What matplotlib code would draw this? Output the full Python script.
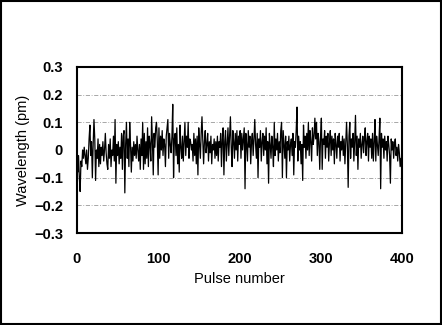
"""
Wavelength stability vs pulse number
"""
import matplotlib.pyplot as plt
import matplotlib as mtpl
import numpy as np

mtpl.rcParams['font.family'] = ['Liberation Sans', 'DejaVu Sans']
mtpl.rcParams['axes.unicode_minus'] = True

# wavelength deviation (pm), pulses 0..400
wavelength = [
    -0.05, -0.08, -0.02, -0.10, -0.15, -0.04, -0.06, 0.00, -0.03, 0.01, -0.02, -0.05, 0.00, -0.07, -0.03, 0.04, 0.09, -0.02, 0.03, -0.10,
    0.02, 0.11, 0.04, -0.11, 0.00, -0.03, 0.04, -0.06, 0.02, -0.05, 0.01, -0.02, 0.03, -0.04, 0.00, 0.06, -0.01, -0.05, -0.07, 0.02,
    -0.03, 0.04, -0.06, 0.00, -0.02, 0.05, -0.04, 0.11, -0.12, 0.02, -0.02, 0.03, -0.05, 0.01, -0.03, 0.06, -0.07, 0.05, 0.07, -0.155,
    0.02, 0.10, -0.03, 0.04, -0.06, 0.10, 0.02, -0.08, 0.01, -0.04, 0.03, -0.02, 0.02, -0.03, 0.05, 0.00, -0.04, 0.02, -0.07, 0.04,
    -0.02, 0.10, -0.07, 0.06, -0.05, 0.03, -0.03, 0.08, -0.06, 0.05, 0.02, -0.04, 0.12, 0.03, -0.09, 0.06, 0.01, 0.08, 0.10, 0.03,
    -0.09, 0.08, -0.03, 0.05, 0.00, 0.07, -0.02, 0.04, 0.02, -0.06, 0.05, 0.08, 0.11, -0.03, 0.06, 0.02, -0.01, 0.05, 0.165, -0.10,
    0.04, 0.06, -0.02, 0.08, -0.05, 0.02, -0.08, 0.09, 0.01, -0.03, 0.05, -0.04, 0.03, 0.10, -0.02, 0.05, 0.01, 0.10, -0.03, 0.04,
    0.03, 0.00, 0.02, -0.04, 0.06, -0.02, 0.04, -0.05, 0.05, -0.09, 0.08, 0.02, -0.03, 0.06, 0.12, 0.04, -0.05, 0.03, 0.07, -0.01,
    0.02, 0.06, -0.04, 0.03, -0.01, 0.05, -0.05, 0.02, 0.00, 0.04, -0.03, 0.03, -0.02, 0.05, -0.04, 0.03, 0.01, 0.06, -0.06, 0.04,
    0.08, -0.09, 0.03, 0.07, -0.04, 0.02, 0.08, -0.02, 0.05, 0.12, 0.01, -0.06, 0.07, 0.03, -0.03, 0.06, 0.00, 0.07, -0.04, 0.05,
    0.02, 0.07, -0.03, 0.06, 0.00, 0.04, 0.08, -0.14, 0.06, 0.02, -0.04, 0.07, 0.01, 0.05, -0.05, 0.03, 0.06, -0.02, 0.04, 0.11,
    0.02, -0.03, 0.06, -0.10, 0.04, 0.01, 0.07, -0.04, 0.03, 0.06, -0.02, 0.05, 0.00, 0.08, -0.05, 0.03, -0.12, 0.06, 0.02, -0.03,
    0.05, 0.01, -0.06, 0.10, -0.02, 0.04, 0.00, 0.06, -0.04, 0.03, -0.01, 0.07, 0.10, -0.10, 0.07, 0.02, -0.03, 0.05, -0.10, 0.03,
    0.00, 0.05, -0.04, 0.02, 0.04, -0.02, 0.06, -0.09, 0.03, 0.01, 0.07, 0.155, -0.04, 0.05, 0.00, 0.03, -0.05, 0.02, -0.11, 0.09,
    0.01, 0.05, -0.03, 0.06, 0.00, 0.10, -0.02, 0.07, 0.03, -0.04, 0.08, 0.02, 0.05, 0.115, 0.04, 0.10, -0.02, 0.06, 0.03, -0.07,
    0.05, 0.115, -0.07, 0.04, 0.02, 0.07, -0.03, 0.05, 0.01, 0.06, -0.04, 0.03, 0.07, -0.02, 0.05, 0.00, 0.04, -0.05, 0.06, 0.02,
    -0.03, 0.05, 0.01, 0.06, -0.04, 0.03, 0.00, 0.05, -0.02, 0.04, -0.05, 0.03, 0.10, 0.02, -0.135, 0.05, 0.10, -0.03, 0.04, 0.01,
    0.06, -0.04, 0.03, 0.125, -0.02, 0.05, -0.07, 0.04, 0.01, 0.06, -0.03, 0.02, 0.05, -0.01, 0.04, 0.08, -0.02, 0.03, 0.06, -0.04,
    0.05, 0.01, 0.04, -0.03, 0.06, -0.04, 0.03, 0.11, -0.04, 0.05, 0.02, -0.02, 0.04, 0.115, -0.14, 0.06, 0.01, 0.04, -0.03, 0.05,
    0.00, 0.03, -0.04, 0.05, 0.02, -0.02, -0.12, 0.04, 0.00, 0.03, -0.03, 0.02, 0.04, -0.02, 0.01, -0.04, 0.02, -0.01, -0.06, -0.03,
    -0.07,
]
pulse = np.arange(len(wavelength))

x_ticks = [0, 100, 200, 300, 400]
y_ticks = [-0.3, -0.2, -0.1, 0, 0.1, 0.2, 0.3]
y_labels = ['\u22120.3', '\u22120.2', '\u22120.1', '0', '0.1', '0.2', '0.3']

fig = plt.figure(figsize=(4.42, 3.25), dpi=100)
ax = fig.add_axes([0.174, 0.283, 0.735, 0.511])

# faint dashed grid
for yv in [-0.2, -0.1, 0.1, 0.2]:
    ax.axhline(yv, color='#999999', linestyle=(0, (5, 2, 1, 2)), linewidth=0.6, zorder=1)

ax.plot(pulse, wavelength, color='black', linewidth=0.9, zorder=2)

ax.set_xlim(0, 400)
ax.set_ylim(-0.3, 0.3)
ax.set_xticks(x_ticks)
ax.set_xticklabels([str(v) for v in x_ticks], fontsize=10.5, fontweight='bold')
ax.set_yticks(y_ticks)
ax.set_yticklabels(y_labels, fontsize=10.5, fontweight='bold')
ax.tick_params(axis='x', length=0, pad=14)
ax.tick_params(axis='y', length=0, pad=10)

for s in ax.spines.values():
    s.set_linewidth(1.5)

ax.set_xlabel('Pulse number', fontsize=10.5, labelpad=4)
ax.set_ylabel('Wavelength (pm)', fontsize=10.5, labelpad=3)

# outer frame
fig.patches.append(plt.Rectangle((0.002, 0.003), 0.996, 0.994, transform=fig.transFigure,
                                 fill=False, edgecolor='black', linewidth=1.5))

plt.savefig('out.png', dpi=100)
